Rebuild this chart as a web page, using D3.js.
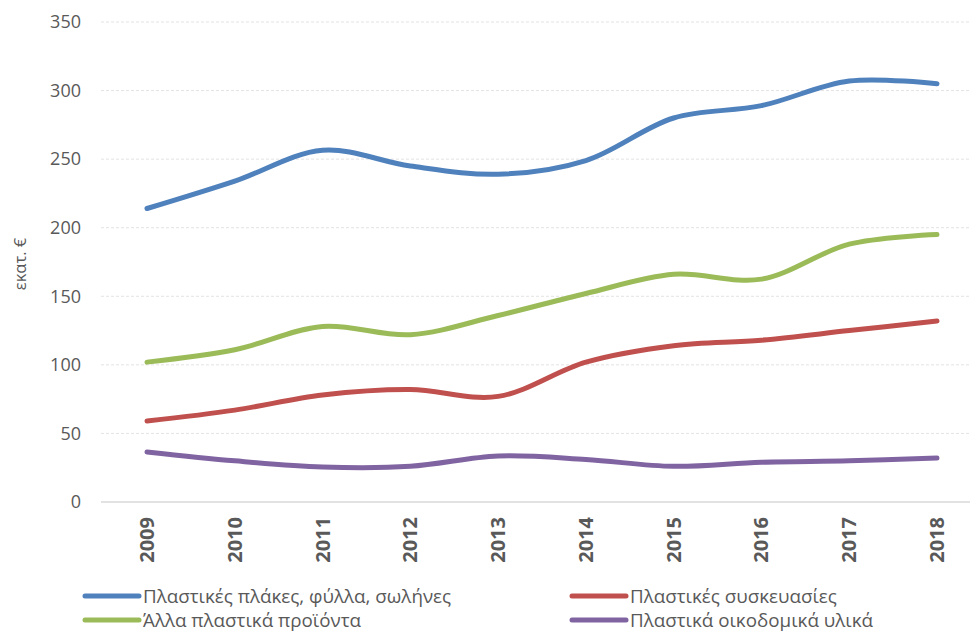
<!DOCTYPE html>
<html><head><meta charset="utf-8">
<script src="https://cdn.jsdelivr.net/npm/d3@7"></script>
<style>body{margin:0;background:#fff}svg{display:block}</style>
</head><body><svg id="c" width="973" height="632"></svg>
<script>
const years = ["2009","2010","2011","2012","2013","2014","2015","2016","2017","2018"];
const seriesNames = ["Πλαστικές πλάκες, φύλλα, σωλήνες","Πλαστικές συσκευασίες","Άλλα πλαστικά προϊόντα","Πλαστικά οικοδομικά υλικά"];
const sheets = [214,234,256.5,245,239,249,280,289,307,305];
const packaging = [59,67,78,82,77,102,114,118,125,132];
const other = [102,111,128,122,136,152,166,162.5,188,195];
const building = [36.5,30,25.5,26,33.5,31,26,29,30,32];
const yTicks = [0,50,100,150,200,250,300,350];
const colors = ["#4F81BD","#C0504D","#9BBB59","#8064A2"];
const values = [sheets, packaging, other, building];

const font = "'Open Sans', 'Noto Sans', sans-serif";
const svg = d3.select("#c");
const x = d3.scalePoint().domain(years).range([147,937]);
const y = d3.scaleLinear().domain([0,350]).range([502,22]);

const grid = svg.append("g");
yTicks.filter(t=>t>0).forEach(t=>{
  grid.append("line").attr("x1",101).attr("x2",970).attr("y1",y(t)).attr("y2",y(t))
    .attr("stroke","#e3e3e3").attr("stroke-dasharray","3,2").attr("stroke-width",1);
});
svg.append("line").attr("x1",101).attr("x2",970).attr("y1",y(0)).attr("y2",y(0))
  .attr("stroke","#d9d9d9").attr("stroke-width",1.5);

const ya = svg.append("g");
yTicks.forEach(t=>{
  ya.append("text").attr("x",81).attr("y",y(t)).attr("dy","0.35em").attr("text-anchor","end")
    .attr("font-family",font).attr("font-size",18).attr("fill","#595959").text(t);
});
svg.append("text").attr("transform","translate(20,264) rotate(-90)").attr("text-anchor","middle")
  .attr("dy","0.35em").attr("font-family",font).attr("font-size",16.5).attr("fill","#595959").text("εκατ. €");

years.forEach(yr=>{
  svg.append("text").attr("transform",`translate(${x(yr)},517) rotate(-90)`).attr("text-anchor","end")
    .attr("dy","0.35em").attr("font-family",font).attr("font-size",20).attr("font-weight","bold")
    .attr("fill","#595959").text(yr);
});

const line = d3.line().x((d,i)=>x(years[i])).y(d=>y(d)).curve(d3.curveCatmullRom.alpha(0.5));
values.forEach((v,i)=>{
  svg.append("path").attr("d",line(v)).attr("fill","none").attr("stroke",colors[i])
    .attr("stroke-width",5).attr("stroke-linecap","round");
});

const legendPos = [[85,596],[572,596],[85,620],[572,620]];
seriesNames.forEach((n,i)=>{
  const [lx,ly] = legendPos[i];
  svg.append("line").attr("x1",lx).attr("x2",lx+54).attr("y1",ly).attr("y2",ly)
    .attr("stroke",colors[i]).attr("stroke-width",5).attr("stroke-linecap","round");
  svg.append("text").attr("x",lx+58).attr("y",ly).attr("dy","0.35em")
    .attr("font-family",font).attr("font-size",18.8).attr("fill","#595959").text(n);
});
</script></body></html>
